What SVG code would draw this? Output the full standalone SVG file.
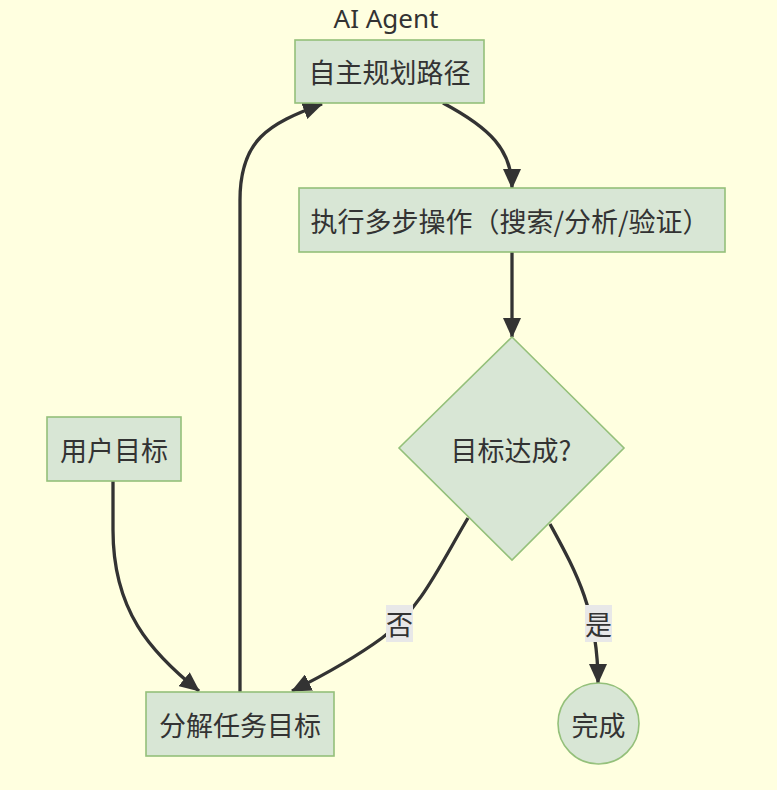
<svg xmlns="http://www.w3.org/2000/svg" width="777" height="790" viewBox="0 0 777 790">
<style>
.bg{fill:#ffffe0}
.node{fill:#d8e6d5;stroke:#94c07a;stroke-width:1.6}
.t{font-family:"Noto Sans CJK SC","Noto Sans",sans-serif;font-size:27px;fill:#333;text-anchor:middle;dominant-baseline:central}
.title{font-family:"Noto Sans","Noto Sans CJK SC",sans-serif;font-size:26px;fill:#333;text-anchor:middle}
.edge{fill:none;stroke:#333;stroke-width:3.3}
.lbl{fill:#e8e8e8}
</style>
<defs>
<marker id="arr" markerUnits="userSpaceOnUse" viewBox="0 0 20 18" refX="19" refY="9" markerWidth="20" markerHeight="18" orient="auto">
<path d="M0,0 L20,9 L0,18 z" fill="#333"/>
</marker>
</defs>
<rect class="bg" width="777" height="790"/>
<text class="title" x="386" y="28">AI Agent</text>
<g id="connectors">
<path class="edge" marker-end="url(#arr)" d="M113,481 L113,530 C113,610 150,652 199,691"/>
<path class="edge" marker-end="url(#arr)" d="M240,692 L240,200 C240,140 268,124 322,104"/>
<path class="edge" marker-end="url(#arr)" d="M443,103 C490,128 512,150 512,188"/>
<path class="edge" marker-end="url(#arr)" d="M512,252 L512,337"/>
<path class="edge" marker-end="url(#arr)" d="M468,518 C440,565 420,610 382,638 C352,660 322,676 292,691"/>
<path class="edge" marker-end="url(#arr)" d="M550,524 C575,570 598,610 598,683"/>
</g>
<g id="lbl-no">
<rect class="lbl" x="386" y="605" width="27" height="37"/>
<text class="t" x="399.5" y="623.5">否</text>
</g>
<g id="lbl-yes">
<rect class="lbl" x="585" y="605" width="27" height="37"/>
<text class="t" x="598.5" y="623.5">是</text>
</g>
<g id="plan">
<rect class="node" x="295" y="40" width="189" height="63"/>
<text class="t" x="389.5" y="71.5">自主规划路径</text>
</g>
<g id="exec">
<rect class="node" x="299" y="188" width="426" height="64"/>
<text class="t" x="510" y="220">执行多步操作（搜索/分析/验证）</text>
</g>
<g id="decide">
<polygon class="node" points="512,337 624,448 512,560 399,448"/>
<text class="t" x="511" y="449">目标达成?</text>
</g>
<g id="user">
<rect class="node" x="47" y="417" width="134" height="64"/>
<text class="t" x="114" y="449">用户目标</text>
</g>
<g id="decompose">
<rect class="node" x="146" y="692" width="188" height="64"/>
<text class="t" x="240" y="724">分解任务目标</text>
</g>
<g id="done">
<circle class="node" cx="598.5" cy="723.5" r="40.5"/>
<text class="t" x="598.5" y="724">完成</text>
</g>
</svg>
